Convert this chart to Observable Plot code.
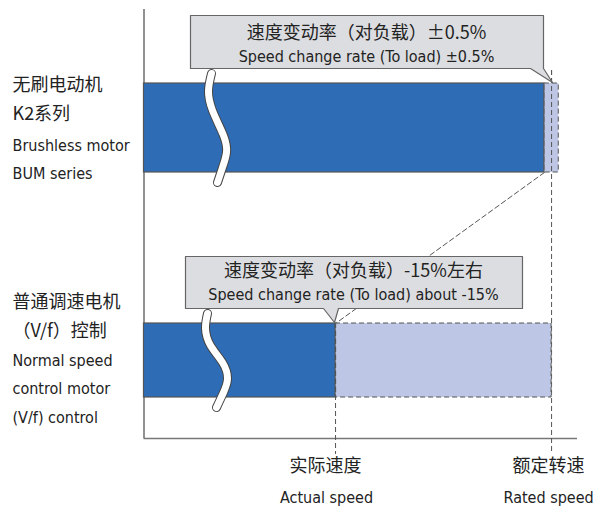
<!DOCTYPE html>
<html>
<head>
<meta charset="utf-8">
<script src="https://cdn.jsdelivr.net/npm/d3@7"></script>
<script src="https://cdn.jsdelivr.net/npm/@observablehq/plot@0.6"></script>
<style>
  html, body { margin: 0; padding: 0; background: #fff; }
  #chart svg { display: block; }
</style>
</head>
<body>
<div id="chart"></div>
<script>
// ---------- data ----------
const ratedSpeed = 100;          // rated speed (%)
const actualSpeed = 85;          // actual speed under load for V/f motor (%)
const bumRange = [99.5, 100.5];  // ±0.5%
const normalRange = [85, 100];   // about -15%
const bumLabelLines = ["无刷电动机", "K2系列", "Brushless motor", "BUM series"];
const normalLabelLines = ["普通调速电机", "（V/f）控制", "Normal speed", "control motor", "(V/f) control"];
const callout1Lines = ["速度变动率（对负载）±0.5%", "Speed change rate (To load) ±0.5%"];
const callout2Lines = ["速度变动率（对负载）-15%左右", "Speed change rate (To load) about -15%"];
const axisLabelsCN = ["实际速度", "额定转速"];
const axisLabelsEN = ["Actual speed", "Rated speed"];
const axisLabelSpeeds = [actualSpeed, ratedSpeed];

// ---------- layout (pixels) ----------
const W = 595, H = 506;
const xDomain = [71.7, 101.8], xRange = [143.5, 577];
const xs = d3.scaleLinear().domain(xDomain).range(xRange);
const px = v => xs.invert(v);
const shift = (v, o) => xs.invert(xs(v) + o);
const axisY = 438, axisTop = 9, ruleBottom = 454;
const barY = {BUM: [83, 172], Normal: [323, 397]};
const BLUE = "#2e6db6", LAV = "#bdc6e4", EDGE = "#555", BOXF = "#dcdde0";
const FONT_EN = "'DejaVu Sans Condensed', 'Noto Sans CJK SC', sans-serif";
const FONT_CN = "'Noto Sans CJK SC', sans-serif";
const isCJK = t => /[\u3000-\u9fff\uff00-\uffef]/.test(t);

const bars = [
  {k: "BUM", x2: bumRange[0]},
  {k: "Normal", x2: normalRange[0]}
];
const ranges = [
  {k: "BUM", x1: bumRange[0], x2: bumRange[1]},
  {k: "Normal", x1: normalRange[0], x2: normalRange[1]}
];
const waves = [
  [[211,73],[208,90],[212,110],[223,135],[226,152],[222,167],[217,182]],
  [[207,313],[205,328],[210,345],[222,362],[227,378],[223,392],[216,407]]
];
const waveData = waves.flatMap((w, i) => w.map(([a, b]) => ({g: i, x: px(a), y: b})));
const callouts = [
  [[190,15],[543,15],[543,68],[552,82],[530,68],[190,68],[190,15]],
  [[185,256],[522,256],[522,308],[338,308],[334,322],[323,308],[185,308],[185,256]]
];
const calloutData = callouts.flatMap((c, i) => c.map(([a, b]) => ({g: i, x: px(a), y: b})));
const diag = [{x: bumRange[0], y: barY.BUM[1]}, {x: normalRange[0], y: barY.Normal[0]}];

const leftText = [
  ...bumLabelLines.map((t, i) => ({t, y: [85, 114, 145, 173][i]})),
  ...normalLabelLines.map((t, i) => ({t, y: [302, 331, 360, 388, 417][i]}))
];
const calloutText = [
  {t: callout1Lines[0], x: px(366), y: 33},
  {t: callout1Lines[1], x: px(366), y: 56},
  {t: callout2Lines[0], x: px(353), y: 271},
  {t: callout2Lines[1], x: px(353), y: 294}
];
const bottomText = [
  ...axisLabelsCN.map((t, i) => ({t, x: shift(axisLabelSpeeds[i], [-10, -3][i]), y: 466})),
  ...axisLabelsEN.map((t, i) => ({t, x: shift(axisLabelSpeeds[i], [-9, -3][i]), y: 497}))
];
const cn = a => a.filter(d => isCJK(d.t));
const en = a => a.filter(d => !isCJK(d.t));

const chart = Plot.plot({
  width: W, height: H,
  marginTop: 0, marginRight: 0, marginBottom: 0, marginLeft: 0,
  x: {domain: xDomain, range: xRange, axis: null},
  y: {domain: [0, H], range: [0, H], axis: null},
  style: {fontFamily: FONT_EN, background: "#fff"},
  marks: [
    // axes
    Plot.ruleX([xDomain[0]], {y1: axisTop, y2: axisY, stroke: "#777", strokeWidth: 1.6}),
    Plot.ruleY([axisY], {x1: xDomain[0], x2: xDomain[1], stroke: "#777", strokeWidth: 1.6}),
    // speed reference dashed rules
    Plot.ruleX([ratedSpeed], {y1: 70, y2: ruleBottom, stroke: EDGE, strokeDasharray: "5,3", strokeWidth: 1}),
    Plot.ruleX([actualSpeed], {y1: barY.Normal[0], y2: ruleBottom, stroke: EDGE, strokeDasharray: "5,3", strokeWidth: 1}),
    // diagonal dashed
    Plot.line(diag, {x: "x", y: "y", stroke: EDGE, strokeDasharray: "5,3", strokeWidth: 1}),
    // lavender ranges
    Plot.rect(ranges, {x1: "x1", x2: "x2", y1: d => barY[d.k][0], y2: d => barY[d.k][1], fill: LAV, stroke: EDGE, strokeDasharray: "5,3", strokeWidth: 1}),
    // blue bars
    Plot.rect(bars, {x1: xDomain[0], x2: "x2", y1: d => barY[d.k][0], y2: d => barY[d.k][1], fill: BLUE, stroke: EDGE, strokeWidth: 1.2}),
    // rated rule over lavender
    Plot.ruleX([ratedSpeed], {y1: 70, y2: barY.BUM[1], stroke: EDGE, strokeDasharray: "5,3", strokeWidth: 1}),
    Plot.ruleX([actualSpeed], {y1: barY.Normal[0], y2: barY.Normal[1], stroke: EDGE, strokeDasharray: "5,3", strokeWidth: 1.2}),
    // wave breaks
    Plot.line(waveData, {x: "x", y: "y", z: "g", curve: "natural", stroke: "#444", strokeWidth: 9}),
    Plot.line(waveData, {x: "x", y: "y", z: "g", curve: "natural", stroke: "#fff", strokeWidth: 7}),
    // callouts
    Plot.line(calloutData, {x: "x", y: "y", z: "g", fill: BOXF, stroke: "#666", strokeWidth: 1.2, curve: "linear"}),
    Plot.text(cn(calloutText), {x: "x", y: "y", text: "t", fontSize: 18, fontFamily: FONT_CN, fill: "#222", lineAnchor: "middle"}),
    Plot.text(en(calloutText), {x: "x", y: "y", text: "t", fontSize: 16, fill: "#222", lineAnchor: "middle"}),
    // left labels
    Plot.text(cn(leftText), {frameAnchor: "left", dx: 12, y: "y", text: "t", textAnchor: "start", fontSize: 18, fontFamily: FONT_CN, fill: "#222", lineAnchor: "middle"}),
    Plot.text(en(leftText), {frameAnchor: "left", dx: 12, y: "y", text: "t", textAnchor: "start", fontSize: 16, fill: "#222", lineAnchor: "middle"}),
    // bottom labels
    Plot.text(cn(bottomText), {x: "x", y: "y", text: "t", fontSize: 18, fontFamily: FONT_CN, fill: "#222", lineAnchor: "middle"}),
    Plot.text(en(bottomText), {x: "x", y: "y", text: "t", fontSize: 16, fill: "#222", lineAnchor: "middle"})
  ]
});
document.getElementById("chart").appendChild(chart);
</script>
</body>
</html>
